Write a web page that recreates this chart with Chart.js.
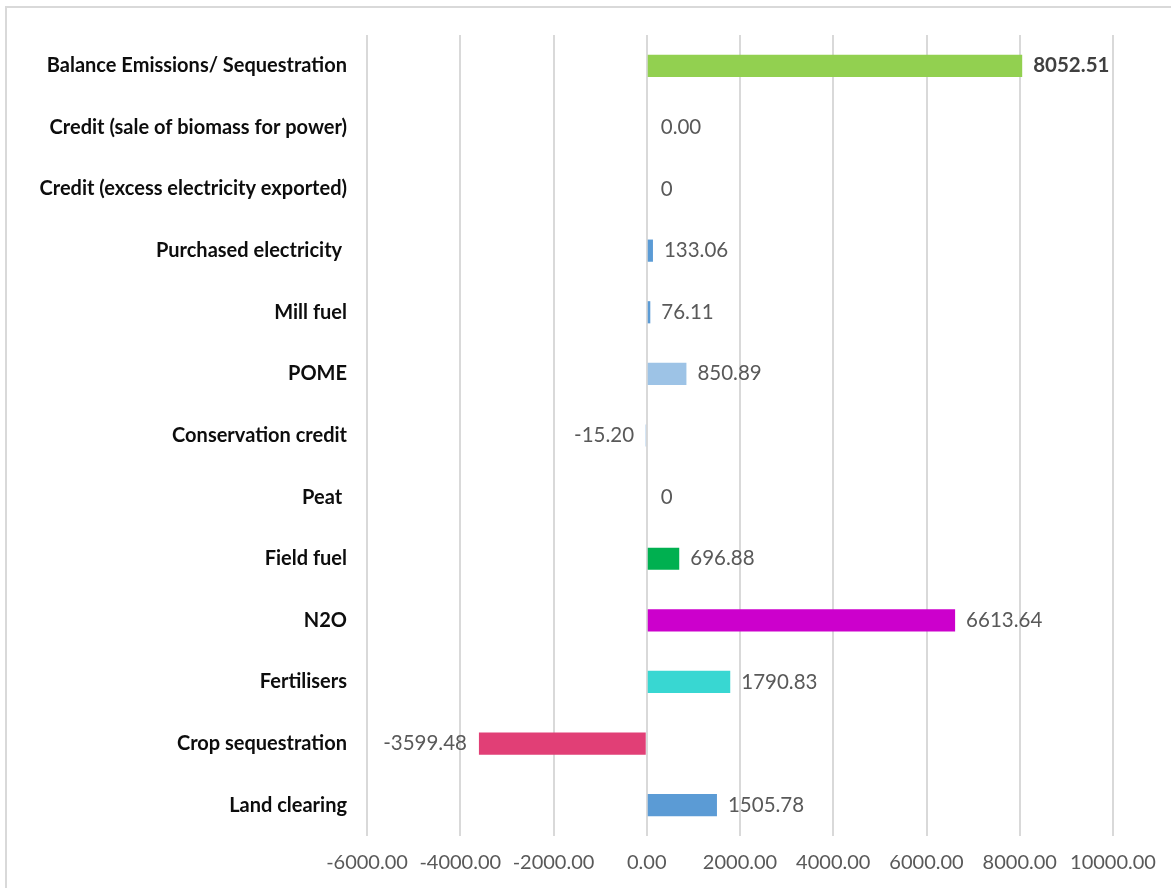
<!DOCTYPE html>
<html>
<head>
<meta charset="utf-8">
<script src="https://cdn.jsdelivr.net/npm/chart.js@4/dist/chart.umd.min.js"></script>
<style>
  html, body { margin: 0; padding: 0; background: #fff; }
  #wrap { position: relative; width: 1171px; height: 888px; overflow: hidden; }
  #frame { position: absolute; left: 5px; top: 6px; width: 1300px; height: 1000px;
           border-left: 2px solid #d9d9d9; border-top: 2px solid #d9d9d9; }
  canvas { position: absolute; left: 0; top: 0; }
</style>
</head>
<body>
<div id="wrap">
  <div id="frame"></div>
  <canvas id="chart-ghg" width="1171" height="888"></canvas>
</div>
<script>
/* GHG emissions / sequestration balance — horizontal bars */

const categories = [
  'Balance Emissions/ Sequestration',
  'Credit (sale of biomass for power)',
  'Credit (excess electricity exported)',
  'Purchased electricity ',
  'Mill fuel',
  'POME',
  'Conservation credit',
  'Peat ',
  'Field fuel',
  'N2O',
  'Fertilisers',
  'Crop sequestration',
  'Land clearing'
];
const values = [8052.51, 0, 0, 133.06, 76.11, 850.89, -15.20, 0, 696.88, 6613.64, 1790.83, -3599.48, 1505.78];
const valueLabels = ['8052.51', '0.00', '0', '133.06', '76.11', '850.89', '-15.20', '0', '696.88', '6613.64', '1790.83', '-3599.48', '1505.78'];
const barColors = ['#92d050', '#5b9bd5', '#5b9bd5', '#5b9bd5', '#5b9bd5', '#9dc3e6', '#5b9bd5', '#5b9bd5', '#00b050', '#cc00cc', '#38d7d2', '#e13f76', '#5b9bd5'];
const xTicks = [-6000, -4000, -2000, 0, 2000, 4000, 6000, 8000, 10000];

const FONT = 'Lato, "Open Sans", sans-serif';

const valueLabelPlugin = {
  id: 'valueLabels',
  afterDatasetsDraw(chart) {
    const c = chart.ctx;
    const meta = chart.getDatasetMeta(0);
    c.save();
    c.textBaseline = 'middle';
    meta.data.forEach((bar, i) => {
      const v = values[i];
      const bold = i === 0;
      c.font = (bold ? 'bold ' : '') + '20.5px ' + FONT;
      c.fillStyle = bold ? '#404040' : '#595959';
      if (v < 0) {
        c.textAlign = 'right';
        c.fillText(valueLabels[i], bar.x - 12, bar.y);
      } else {
        c.textAlign = 'left';
        c.fillText(valueLabels[i], bar.x + (v === 0 ? 14 : 11), bar.y);
      }
    });
    c.restore();
  }
};

new Chart(document.getElementById('chart-ghg'), {
  type: 'bar',
  data: {
    labels: categories,
    datasets: [{
      data: values,
      backgroundColor: barColors,
      borderWidth: 0,
      categoryPercentage: 1,
      barPercentage: 0.36
    }]
  },
  options: {
    indexAxis: 'y',
    responsive: false,
    animation: false,
    layout: { padding: { top: 35, right: 58, left: 0, bottom: 0 } },
    plugins: { legend: { display: false }, tooltip: { enabled: false } },
    scales: {
      x: {
        type: 'linear',
        min: -6000, max: 10000,
        afterBuildTicks: s => { s.ticks = xTicks.map(v => ({ value: v })); },
        afterFit: s => { s.height = 52; },
        border: { display: false },
        grid: { color: '#d9d9d9', lineWidth: 2, drawTicks: false },
        ticks: {
          color: '#595959', padding: 15,
          font: { family: FONT, size: 20 },
          maxRotation: 0,
          callback: v => v.toFixed(2)
        }
      },
      y: {
        afterFit: s => { s.width = 367; },
        border: { display: false },
        grid: { display: false, drawTicks: false },
        ticks: {
          color: '#0d0d0d', padding: 20,
          font: { family: FONT, size: 20, weight: 'bold' }
        }
      }
    }
  },
  plugins: [valueLabelPlugin]
});
</script>
</body>
</html>
